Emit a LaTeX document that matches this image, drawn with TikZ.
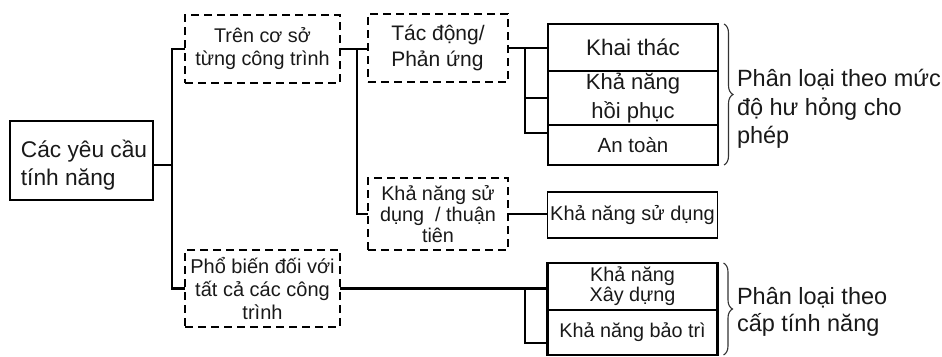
\documentclass[tikz,border=0pt]{standalone}
\usepackage{fontspec}
\setmainfont{Liberation Sans}
\usetikzlibrary{decorations.pathreplacing}
\begin{document}
\begin{tikzpicture}[x=1pt,y=-1pt,
  every node/.style={outer sep=0pt, inner sep=1pt, text=black!90},
  fs/.style 2 args={font=\fontsize{#1}{#2}\selectfont},
  dbox/.style={draw, line width=2.8pt, dash pattern=on 8pt off 5pt, align=center},
  sbox/.style={draw, line width=2.2pt},
  cell/.style={draw, line width=1.6pt, minimum width=170pt, align=center},
  conn/.style={line width=2.2pt},
  brc/.style={decorate, decoration={brace, amplitude=9pt}, line width=1.1pt, draw=black!80}]
\useasboundingbox (0,0) rectangle (942,356);

% root box and its caption
\node[sbox, minimum width=143pt, minimum height=79pt] (root) at (81.5,160.5) {};
\node[align=left, fs={22.7}{28}] (roottxt) at (84,165) {Các yêu cầu\\tính năng};

% dashed category boxes
\node[dbox, minimum width=155pt, minimum height=68pt, fs={19.8}{23}] (b1) at (262.5,49) {Trên cơ sở\\từng công trình};
\node[dbox, minimum width=140pt, minimum height=68pt, align=left, fs={21}{26}] (b2) at (438,48) {Tác động/\\Phản ứng};
\node[dbox, minimum width=140pt, minimum height=72pt, fs={19.8}{21}] (b4) at (438,214) {Khả năng sử\\dụng~ / thuận\\tiên};
\node[dbox, minimum width=155pt, minimum height=77pt, fs={20}{23}] (b3) at (262.5,288.5) {Phổ biến đối với\\tất cả các công\\trình};

% requirement cells
\node[cell, minimum height=47pt, fs={22.5}{26}] (r1) at (633,47.5) {Khai thác};
\node[cell, minimum height=54pt, fs={22}{29}] (r2) at (633,98) {Khả năng\\hồi phục};
\node[cell, minimum height=40pt, fs={20.5}{24}] (r3) at (633,145) {An toàn};
\node[cell, minimum height=46pt, fs={20}{24}] (r4) at (632.5,215) {Khả năng sử dụng};
\node[cell, minimum height=47pt, fs={19.8}{20}] (r5) at (632.5,286.5) {Khả năng\\Xây dựng};
\node[cell, minimum height=45pt, fs={19.8}{24}] (r6) at (632.5,332.5) {Khả năng bảo trì};
\draw[line width=2.2pt] (r1.north west) rectangle (r3.south east);
\draw[line width=2.2pt] (r5.north west) rectangle (r6.south east);

% braces and classification labels
\draw[brc] ([xshift=6pt]r1.north east) -- ([xshift=6pt]r3.south east);
\draw[brc] ([xshift=6pt]r5.north east) -- ([xshift=6pt]r6.south east);
\node[anchor=west, align=left, fs={23.5}{28.5}] (l1) at (736,109) {Phân loại theo mức\\độ hư hỏng cho\\phép};
\node[anchor=west, align=left, fs={23.5}{27}] (l2) at (736,312) {Phân loại theo\\cấp tính năng};

% connectors
\coordinate (j1) at (172,165);
\draw[conn] (root.east |- j1) -- (j1);
\draw[conn] (b1.west) -| (j1) |- (b3.west);

\coordinate (j2) at (357,49);
\draw[conn] (b1.east) -- (b1.east -| b2.west);
\draw[conn] (j2) |- (b4.west);

\coordinate (j3) at (525,48);
\draw[conn] (b2.east) -- (b2.east -| r1.west);
\draw[conn] (j3) |- (r2.west);
\draw[conn] (j3) |- ([yshift=12pt]r3.west);

\draw[conn] (b4.east) -- (b4.east -| r4.west);

\coordinate (j4) at (525,288.5);
\draw[conn] (b3.east) -- (b3.east -| r5.west);
\draw[conn] (j4) |- ([yshift=-10.5pt]r6.west);
\end{tikzpicture}
\end{document}
